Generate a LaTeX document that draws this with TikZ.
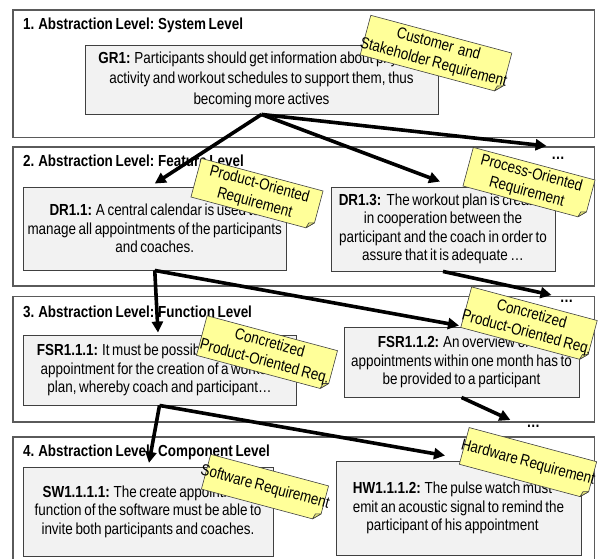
\documentclass[tikz,border=0pt]{standalone}
\usepackage{fontspec}
\setmainfont{Liberation Sans}[FakeStretch=0.84,WordSpace={0.7,0,0}]
\usetikzlibrary{arrows.meta}
\definecolor{notey}{RGB}{255,255,153}
\definecolor{notefold}{RGB}{225,225,120}
\definecolor{boxfill}{RGB}{242,242,242}
\definecolor{boxline}{RGB}{64,64,64}
\definecolor{levline}{RGB}{90,90,90}
\newcommand{\mynote}[6]{%
  \begin{scope}[shift={(#2,#3)},rotate=-15]
    \path[notefill] (-#4/2,-#5/2) -- (#4/2,-#5/2) -- (#4/2,#5/2-7) -- (#4/2-7,#5/2) -- (-#4/2,#5/2) -- cycle;
    \path[foldfill] (#4/2,#5/2-7) -- (#4/2-7,#5/2) -- (#4/2-5.5,#5/2-5.5) -- cycle;
    \node[notetext,transform shape] (#1) at (0,0) {#6};
  \end{scope}}
\begin{document}
\begin{tikzpicture}[x=1pt,y=-1pt,
  every node/.style={font=\fontsize{16}{18.5}\selectfont},
  level/.style={draw=levline,line width=1.2pt,fill=white},
  ltitle/.style={anchor=west,inner sep=0pt,font=\fontsize{16}{18}\selectfont\bfseries},
  ibox/.style={draw=boxline,line width=0.9pt,fill=boxfill,align=center,inner xsep=2pt,inner ysep=0pt},
  dots/.style={inner sep=0pt,font=\fontsize{16}{18}\selectfont\bfseries},
  arr/.style={line width=3.6pt,-{Triangle[length=11pt,width=11pt]}},
  notefill/.style={fill=notey,draw=black!75,line width=0.6pt},
  foldfill/.style={fill=notefold,draw=black!75,line width=0.6pt,line join=round},
  notetext/.style={align=center,inner sep=0pt,font=\fontsize{16}{19}\selectfont}]
\useasboundingbox (0,0) rectangle (605,559);

% abstraction levels
\draw[level] (13,10) rectangle (594.5,137.7);
\draw[level] (13,147) rectangle (594.5,286);
\draw[level] (13,296.5) rectangle (594.5,422);
\draw[level] (13,437) rectangle (594.5,575);

\node[ltitle] (t1) at (23,25) {1. Abstraction Level: System Level};
\node[ltitle] (t2) at (23,160.7) {2. Abstraction Level: Feature Level};
\node[ltitle] (t3) at (23,311.7) {3. Abstraction Level: Function Level};
\node[ltitle] (t4) at (23,452) {4. Abstraction Level: Component Level};

\node[dots] (dots2) at (558,158) {…};
\node[dots] (dots3) at (566.7,301.7) {…};
\node[dots] (dots4) at (533.3,426.7) {…};

% requirement boxes
\node[ibox,minimum width=353pt,minimum height=69pt,font=\fontsize{16}{20.5}\selectfont] (gr1) at (261.5,79.5)
  {\textbf{GR1:} Participants should get information about physical\\activity and workout schedules to support them, thus\\becoming more actives};
\node[ibox,minimum width=263.5pt,minimum height=83pt] (dr11) at (154.75,228.5)
  {\textbf{DR1.1:} A central calendar is used to\\manage all appointments of the participants\\and coaches.};
\node[ibox,minimum width=224pt,minimum height=84pt] (dr13) at (443,229)
  {\textbf{DR1.3:}\ \ The workout plan is created\\in cooperation between the\\participant and the coach in order to\\assure that it is adequate …};
\node[ibox,minimum width=273pt,minimum height=70pt] (fsr111) at (159.5,370)
  {\textbf{FSR1.1.1:} It must be possible to create an\\appointment for the creation of a workout\\plan, whereby coach and participant…};
\node[ibox,minimum width=235pt,minimum height=70pt] (fsr112) at (461.5,362)
  {\textbf{FSR1.1.2:} An overview of all\\appointments within one month has to\\be provided to a participant};
\node[ibox,minimum width=250pt,minimum height=89pt] (sw) at (148,511.5)
  {\textbf{SW1.1.1.1:} The create appointment\\function of the software must be able to\\invite both participants and coaches.};
\node[ibox,minimum width=245pt,minimum height=94pt] (hw) at (458.5,508)
  {\textbf{HW1.1.1.2:} The pulse watch must\hspace*{12pt}\\emit an acoustic signal to remind the\hspace*{12pt}\\participant of his appointment\hspace*{12pt}};

% refinement arrows
\draw[arr] (gr1.south) -- ([yshift=3pt]dr11.north);
\draw[arr] (gr1.south) -- ([xshift=-3pt,yshift=5pt]dr13.north);
\draw[arr] (gr1.south) -- ([xshift=-4.5pt,yshift=12pt]dots2.west);
\draw[arr] (dr11.south) -- ([xshift=-1.5pt,yshift=2pt]fsr111.north);
\draw[arr] (dr11.south) -- ([xshift=-2.5pt,yshift=1pt]fsr112.north);
\draw[arr] (dr13.south) -- ([xshift=-8.3pt,yshift=6.7pt]dots3.west);
\draw[arr] (fsr111.south) -- ([xshift=1pt,yshift=3.7pt]sw.north);
\draw[arr] (fsr111.south) -- ([xshift=-13.5pt,yshift=5pt]hw.north);
\draw[arr] (fsr112.south) -- ([xshift=-16pt,yshift=6.7pt]dots4.west);

% sticky notes
\mynote{n1}{436}{54}{146}{41}{Customer\ \ and\\Stakeholder Requirement}
\mynote{n2}{257}{194}{126}{40}{Product-Oriented\\Requirement}
\mynote{n3}{529}{183}{126}{40}{Process-Oriented\\Requirement}
\mynote{n4}{267}{353}{135}{41}{Concretized\\Product-Oriented Req.}
\mynote{n5}{529}{324}{130}{42}{Concretized\\Product-Oriented Req.}
\mynote{n6}{265}{487.5}{122}{36}{Software Requirement}
\mynote{n7}{528}{463}{132}{38}{Hardware Requirement}
\end{tikzpicture}
\end{document}
